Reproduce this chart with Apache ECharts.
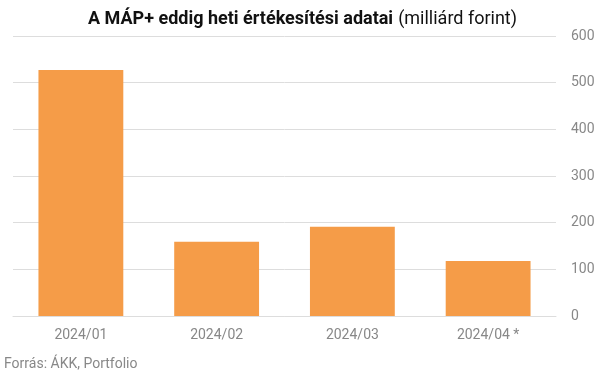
<!DOCTYPE html>
<html><head><meta charset="utf-8">
<script src="https://cdn.jsdelivr.net/npm/echarts@6/dist/echarts.min.js"></script>
<style>html,body{margin:0;padding:0;background:#fff}#c{width:605px;height:378px}</style>
</head><body><div id="c"></div>
<script>
const categories = ['2024/01', '2024/02', '2024/03', '2024/04 *'];
const values = [527, 159, 191, 118];
const yTicks = [0, 100, 200, 300, 400, 500, 600];

const chart = echarts.init(document.getElementById('c'), null, {renderer: 'canvas'});
chart.setOption({
  animation: false,
  title: {
    text: '{b|A MÁP+ eddig heti értékesítési adatai} {n|(milliárd forint)}',
    left: 'center', top: 5,
    textStyle: {
      rich: {
        b: {fontFamily: 'Roboto', fontWeight: 'bold', fontSize: 18, color: '#111'},
        n: {fontFamily: 'Roboto', fontWeight: 'normal', fontSize: 18, color: '#111'}
      }
    }
  },
  graphic: [{
    type: 'text', left: 4, top: 357,
    style: {text: 'Forrás: ÁKK, Portfolio', fontFamily: 'Roboto', fontSize: 14, fill: '#888'}
  }],
  grid: {left: 13, right: 49, top: 36, bottom: 62, containLabel: false},
  xAxis: {
    type: 'category', data: categories,
    axisLine: {show: true, lineStyle: {color: '#ddd'}},
    axisTick: {show: false},
    axisLabel: {fontFamily: 'Roboto', fontSize: 14, color: '#888', margin: 12}
  },
  yAxis: {
    type: 'value', position: 'right', min: yTicks[0], max: yTicks[yTicks.length-1], interval: 100,
    axisLine: {show: false}, axisTick: {show: false},
    splitLine: {lineStyle: {color: '#ddd'}},
    axisLabel: {fontFamily: 'Roboto', fontSize: 14, color: '#888', margin: 15}
  },
  series: [{
    type: 'bar', data: values, barWidth: '62.5%',
    itemStyle: {color: '#F59C48'}
  }]
});
</script></body></html>
